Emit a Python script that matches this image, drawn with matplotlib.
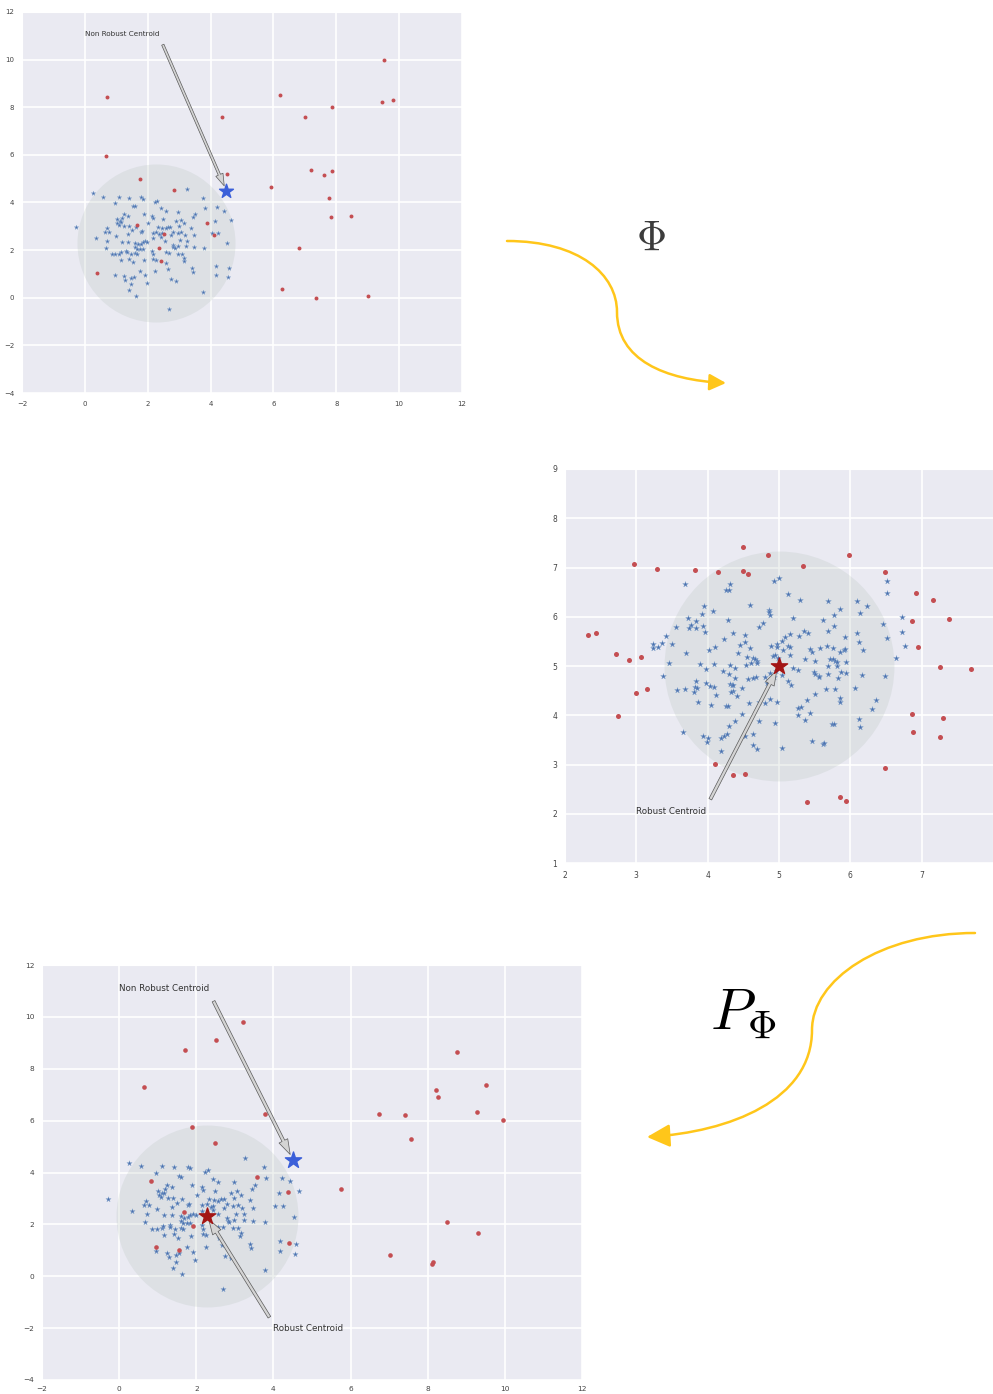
import numpy as np
import matplotlib.pyplot as plt
import seaborn as sns
from matplotlib.path import Path
from matplotlib.patches import FancyArrowPatch

sns.set_style('darkgrid')
plt.rcParams['font.family'] = ['DejaVu Sans']
plt.rcParams['mathtext.fontset'] = 'cm'

# inliers in input space (same sample for the input and pre-image plots)
inlier_pts = np.array([
    (0.25, 4.38), (0.57, 4.25), (1.10, 4.25), (1.42, 4.20), (1.79, 4.23), (1.84, 4.16),
    (2.22, 4.02), (2.30, 4.08), (3.25, 4.56), (3.76, 4.20), (0.96, 3.97), (1.54, 3.87),
    (1.60, 3.84), (2.43, 3.76), (2.57, 3.63), (2.97, 3.62), (3.81, 3.78), (4.21, 3.80),
    (4.44, 3.66), (1.89, 3.53), (2.14, 3.43), (2.17, 3.33), (3.52, 3.51), (3.44, 3.38),
    (1.23, 3.51), (1.37, 3.43), (1.19, 3.35), (1.01, 3.29), (1.11, 3.22), (1.03, 3.12),
    (1.08, 3.07), (1.15, 3.20), (2.49, 3.29), (2.89, 3.22), (3.05, 3.28), (3.16, 3.12),
    (4.15, 3.22), (4.66, 3.28), (-0.29, 2.97), (0.69, 2.92), (0.65, 2.76), (0.78, 2.75),
    (1.26, 3.01), (1.39, 3.03), (1.51, 2.84), (1.64, 2.97), (1.78, 2.75), (1.82, 2.80),
    (2.01, 3.12), (2.34, 2.97), (2.45, 2.94), (2.57, 2.92), (2.64, 2.99), (2.72, 2.99),
    (2.98, 3.01), (3.38, 2.95), (2.16, 2.74), (2.27, 2.77), (2.37, 2.68), (2.44, 2.71),
    (2.43, 2.56), (2.80, 2.77), (2.73, 2.64), (2.95, 2.71), (3.07, 2.75), (3.19, 2.63),
    (3.47, 2.62), (4.04, 2.71), (4.24, 2.71), (0.34, 2.50), (0.98, 2.58), (1.37, 2.68),
    (1.17, 2.35), (1.37, 2.35), (1.60, 2.32), (1.69, 2.26), (1.78, 2.27), (1.84, 2.35),
    (1.92, 2.39), (1.98, 2.35), (1.60, 2.14), (1.65, 2.04), (1.75, 2.04), (1.84, 2.04),
    (2.16, 2.52), (2.55, 2.39), (2.79, 2.23), (2.82, 2.14), (2.86, 2.09), (2.97, 2.17),
    (3.04, 2.41), (3.24, 2.39), (3.23, 2.17), (3.46, 2.14), (3.78, 2.11), (4.53, 2.29),
    (0.72, 2.39), (0.66, 2.09), (0.86, 1.83), (0.97, 1.83), (1.10, 1.85), (1.14, 1.94),
    (1.32, 1.98), (1.33, 1.91), (1.46, 1.83), (1.61, 1.87), (1.65, 1.82), (1.42, 1.63),
    (1.53, 1.49), (1.15, 1.58), (1.87, 1.57), (2.15, 1.98), (2.18, 1.82), (2.18, 1.63),
    (2.25, 1.59), (2.57, 1.91), (2.68, 1.90), (2.96, 1.85), (3.08, 1.85), (3.15, 1.67),
    (3.14, 1.54), (3.40, 1.23), (3.43, 1.09), (2.58, 1.46), (2.66, 1.19), (2.24, 1.14),
    (0.95, 0.96), (1.23, 0.90), (1.28, 0.76), (1.47, 0.83), (1.55, 0.88), (1.76, 1.13),
    (1.92, 0.95), (1.47, 0.56), (1.97, 0.63), (1.40, 0.31), (1.63, 0.08), (2.74, 0.80),
    (2.90, 0.71), (3.77, 0.23), (2.69, -0.48), (4.16, 1.34), (4.18, 0.96), (4.58, 1.24),
    (4.55, 0.86),
])

# outliers of the input sample
outlier_pts = np.array([
    (0.69, 8.41), (4.36, 7.57), (6.21, 8.53), (7.02, 7.59), (7.87, 7.99), (9.53, 10.0),
    (9.47, 8.24), (9.82, 8.29), (4.53, 5.18), (5.91, 4.63), (7.18, 5.35), (7.62, 5.15),
    (7.87, 5.33), (7.76, 4.17), (7.84, 3.40), (8.47, 3.42), (6.81, 2.08), (6.26, 0.36),
    (7.34, 0.01), (9.01, 0.06), (3.90, 3.12), (4.11, 2.65), (0.68, 5.97), (1.77, 5.00),
    (2.83, 4.53), (1.67, 3.07), (2.53, 2.66), (2.36, 2.08), (2.42, 1.54), (0.40, 1.04),
])

# outliers mapped back from feature space (pre-images)
preimage_outlier_pts = np.array([
    (0.64, 7.31), (1.71, 8.71), (2.52, 9.09), (3.20, 9.82), (3.79, 6.24), (1.88, 5.76),
    (6.74, 6.24), (7.42, 6.21), (8.21, 7.17), (8.27, 6.90), (8.77, 8.64), (9.51, 7.38),
    (9.29, 6.32), (9.95, 6.04), (7.56, 5.28), (5.74, 3.36), (8.49, 2.09), (9.31, 1.65),
    (7.02, 0.82), (8.10, 0.47), (8.14, 0.56), (4.38, 3.24), (4.41, 1.27), (2.49, 5.13),
    (0.83, 3.69), (3.58, 3.83), (1.67, 2.47), (1.92, 1.95), (0.95, 1.13), (1.56, 1.00),
])

# inliers in feature space
feature_inlier_pts = np.array([
    (3.68, 6.67), (4.31, 6.67), (4.26, 6.55), (4.30, 6.54), (4.93, 6.72), (5.00, 6.78),
    (4.59, 6.23), (3.95, 6.21), (4.08, 6.12), (4.86, 6.14), (4.86, 6.09), (4.88, 6.03),
    (3.73, 5.97), (4.29, 5.94), (3.92, 6.06), (3.77, 5.84), (3.83, 5.91), (3.74, 5.78),
    (3.84, 5.78), (3.94, 5.82), (3.96, 5.69), (4.78, 5.88), (4.72, 5.80), (3.55, 5.80),
    (3.41, 5.61), (3.50, 5.45), (3.36, 5.47), (3.24, 5.45), (3.30, 5.39), (3.23, 5.36),
    (4.36, 5.68), (4.52, 5.62), (4.23, 5.54), (4.53, 5.49), (4.45, 5.42), (4.59, 5.37),
    (4.10, 5.39), (4.02, 5.33), (4.42, 5.27), (3.70, 5.26), (4.89, 5.41), (4.97, 5.44),
    (4.97, 5.38), (4.91, 5.20), (4.95, 5.23), (4.98, 5.17), (4.55, 5.18), (4.64, 5.17),
    (4.66, 5.14), (4.69, 5.10), (4.69, 5.07), (4.61, 5.07), (4.54, 5.02), (3.46, 5.06),
    (3.89, 5.05), (4.09, 5.05), (4.32, 5.03), (4.39, 4.95), (4.22, 4.89), (4.30, 4.84),
    (3.97, 4.93), (3.38, 4.79), (3.84, 4.70), (3.82, 4.57), (3.85, 4.55), (3.97, 4.65),
    (4.03, 4.59), (4.09, 4.58), (4.12, 4.42), (3.57, 4.51), (3.68, 4.54), (3.81, 4.48),
    (4.32, 4.64), (4.34, 4.61), (4.36, 4.61), (4.35, 4.49), (4.33, 4.48), (4.39, 4.75),
    (4.48, 4.56), (4.56, 4.73), (4.63, 4.76), (4.68, 4.78), (4.41, 4.40), (4.80, 4.77),
    (4.83, 4.66), (4.93, 4.78), (4.87, 4.86), (4.96, 4.90), (3.87, 4.27), (4.04, 4.21),
    (4.26, 4.19), (4.28, 4.19), (4.58, 4.25), (4.81, 4.24), (4.88, 4.32), (4.72, 4.27),
    (4.97, 4.26),
    (6.52, 6.72), (6.52, 6.48), (5.13, 6.46), (5.30, 6.33), (5.69, 6.31), (6.10, 6.31),
    (6.23, 6.21), (5.85, 6.15), (6.14, 6.08), (5.77, 6.04), (5.20, 5.98), (5.61, 5.93),
    (6.73, 5.99), (5.77, 5.82), (6.46, 5.86), (6.72, 5.69), (5.68, 5.71), (6.10, 5.66),
    (5.35, 5.72), (5.41, 5.68), (5.28, 5.61), (5.16, 5.64), (5.09, 5.58), (5.04, 5.51),
    (5.92, 5.59), (6.51, 5.56), (6.12, 5.49), (5.12, 5.41), (5.15, 5.38), (5.05, 5.32),
    (6.76, 5.41), (5.44, 5.35), (5.46, 5.28), (5.57, 5.36), (5.67, 5.41), (5.76, 5.36),
    (5.86, 5.28), (5.91, 5.32), (5.93, 5.35), (6.18, 5.33), (5.15, 5.23), (5.36, 5.15),
    (5.72, 5.14), (5.75, 5.14), (5.79, 5.11), (5.81, 5.08), (5.51, 5.10), (5.69, 5.00),
    (5.82, 5.01), (5.94, 5.08), (6.64, 5.17), (5.19, 4.96), (5.27, 4.91), (5.04, 4.82),
    (5.49, 4.88), (5.51, 4.83), (5.56, 4.80), (5.56, 4.78), (5.69, 4.84), (5.87, 4.88),
    (5.94, 4.85), (6.17, 4.82), (6.49, 4.80), (5.83, 4.75), (5.13, 4.69), (5.17, 4.61),
    (6.06, 4.55), (5.66, 4.54), (5.78, 4.54), (5.39, 4.31), (5.51, 4.43), (5.85, 4.35),
    (5.86, 4.26), (6.36, 4.31), (5.26, 4.15), (5.31, 4.17), (6.31, 4.13),
    (3.66, 3.66), (3.94, 3.57), (4.01, 3.53), (3.99, 3.45), (4.18, 3.53), (4.23, 3.57),
    (4.27, 3.62), (4.18, 3.28), (4.30, 3.79), (4.39, 3.89), (4.48, 4.02), (4.72, 3.88),
    (4.52, 3.58), (4.64, 3.62), (4.63, 3.39), (4.69, 3.32), (4.95, 3.84), (5.04, 3.34),
    (5.26, 4.01), (5.37, 3.90), (5.44, 4.04), (5.46, 3.47), (5.62, 3.41), (5.63, 3.43),
    (5.74, 3.82), (5.77, 3.82), (6.12, 3.92), (6.13, 3.76),
])

# outliers in feature space
feature_outlier_pts = np.array([
    (4.49, 7.42), (4.84, 7.26), (2.97, 7.07), (3.29, 6.96), (3.82, 6.95), (4.14, 6.91),
    (4.49, 6.93), (4.56, 6.86), (2.71, 5.25), (2.90, 5.13), (3.06, 5.18), (2.99, 4.46),
    (3.15, 4.53), (2.32, 5.63), (2.43, 5.67), (5.98, 7.25), (5.33, 7.03), (6.48, 6.90),
    (6.92, 6.49), (7.16, 6.34), (6.86, 5.92), (7.38, 5.95), (6.95, 5.39), (7.25, 4.97),
    (7.69, 4.93), (2.74, 3.98), (4.10, 3.02), (4.35, 2.78), (4.52, 2.80), (5.39, 2.23),
    (5.85, 2.35), (5.94, 2.26), (6.49, 2.93), (6.86, 4.03), (6.88, 3.66), (7.30, 3.95),
    (7.26, 3.55),
])

non_robust_centroid = (4.5, 4.5)
robust_centroid = (2.27, 2.32)
feature_centroid = (5.0, 5.0)

BLUE = '#4c72b0'
RED = '#c44e52'
GOLD = '#ffc61a'

fig = plt.figure(figsize=(9.93, 13.94), dpi=100)

# transparent full-figure layer in pixel units for the mapping arrows
ov = fig.add_axes([0, 0, 1, 1])
ov.set_xlim(0, 993)
ov.set_ylim(1394, 0)
ov.axis('off')
ov.patch.set_alpha(0)


def draw_points(ax, inl, outl, circle_center, circle_s, ms):
    ax.scatter([circle_center[0]], [circle_center[1]], s=circle_s, marker='o',
               color='#a9b9b0', alpha=0.2, linewidths=0, zorder=1)
    ax.scatter(inl[:, 0], inl[:, 1], s=ms * 1.5, marker='*', color=BLUE,
               linewidths=0.2, edgecolors='#86a8cf', zorder=3)
    ax.scatter(outl[:, 0], outl[:, 1], s=ms, marker='o', color=RED,
               linewidths=0, zorder=3)


def arrow_props(scale):
    return dict(facecolor='#d4d4d4', edgecolor='#5a5a5a', linewidth=0.5,
                width=2.2 * scale, headwidth=7 * scale, headlength=11 * scale,
                shrink=0.03)


def style_axes(ax, fs):
    ax.tick_params(labelsize=fs, colors='#444444', pad=2)
    ax.grid(True, color='white', linewidth=1.2)


# input space
ax1 = fig.add_axes([22 / 993, 1 - 393 / 1394, 440 / 993, 381 / 1394])
draw_points(ax1, inlier_pts, outlier_pts, robust_centroid, 12950, 8)
ax1.scatter(*non_robust_centroid, s=110, marker='*', color='#3b5fd9', zorder=4)
ax1.annotate('Non Robust Centroid', xy=non_robust_centroid, xytext=(0, 11),
             fontsize=5.2, color='#333333', arrowprops=arrow_props(0.8))
ax1.set_xlim(-2, 12)
ax1.set_ylim(-4, 12)
ax1.set_xticks(range(-2, 13, 2))
ax1.set_yticks(range(-4, 13, 2))
style_axes(ax1, 5)

# feature space
ax2 = fig.add_axes([565 / 993, 1 - 863 / 1394, 428 / 993, 394 / 1394])
draw_points(ax2, feature_inlier_pts, feature_outlier_pts, feature_centroid, 27400, 13)
ax2.scatter(*feature_centroid, s=150, marker='*', color='#a31515', zorder=4)
ax2.annotate('Robust Centroid', xy=feature_centroid, xytext=(3, 2),
             fontsize=6.3, color='#333333', arrowprops=arrow_props(1.0))
ax2.set_xlim(2, 8)
ax2.set_ylim(1, 9)
ax2.set_xticks(range(2, 8))
ax2.set_yticks(range(1, 10))
style_axes(ax2, 5.5)

# pre-image back in input space
ax3 = fig.add_axes([42 / 993, 14 / 1394, 540 / 993, 415 / 1394])
draw_points(ax3, inlier_pts, preimage_outlier_pts, robust_centroid, 17160, 11)
ax3.scatter(*non_robust_centroid, s=150, marker='*', color='#3b5fd9', zorder=4)
ax3.scatter(*robust_centroid, s=150, marker='*', color='#a31515', zorder=4)
ax3.annotate('Non Robust Centroid', xy=non_robust_centroid, xytext=(0, 11),
             fontsize=6.3, color='#333333', arrowprops=arrow_props(1.0))
ax3.annotate('Robust Centroid', xy=robust_centroid, xytext=(4, -2.1),
             fontsize=6.3, color='#333333', arrowprops=arrow_props(1.0))
ax3.set_xlim(-2, 12)
ax3.set_ylim(-4, 12)
ax3.set_xticks(range(-2, 13, 2))
ax3.set_yticks(range(-4, 13, 2))
style_axes(ax3, 5.3)
ax3.tick_params(axis='x', pad=1)


def s_arrow(verts, head_len, head_w):
    codes = [Path.MOVETO] + [Path.CURVE4] * 6
    style = '-|>,head_length={},head_width={}'.format(head_len, head_w)
    arr = FancyArrowPatch(path=Path(verts, codes), arrowstyle=style, color=GOLD,
                          lw=1.8, mutation_scale=1, shrinkA=0, shrinkB=0)
    ov.add_patch(arr)


# Phi: input space -> feature space
s_arrow([(507, 241), (580, 241), (617, 275), (617, 312),
         (617, 360), (665, 380), (726, 383)], 10, 5)
ov.text(651, 238, r'$\Phi$', fontsize=30, color='#3c3c3c', ha='center', va='center')

# P_Phi: feature space -> pre-image
s_arrow([(975, 933), (880, 933), (812, 980), (812, 1030),
         (812, 1100), (730, 1132), (647, 1137)], 14, 7)
ov.text(743, 1013, r'$P_\Phi$', fontsize=42, color='black', ha='center', va='center')

fig.savefig('out.png', dpi=100)
